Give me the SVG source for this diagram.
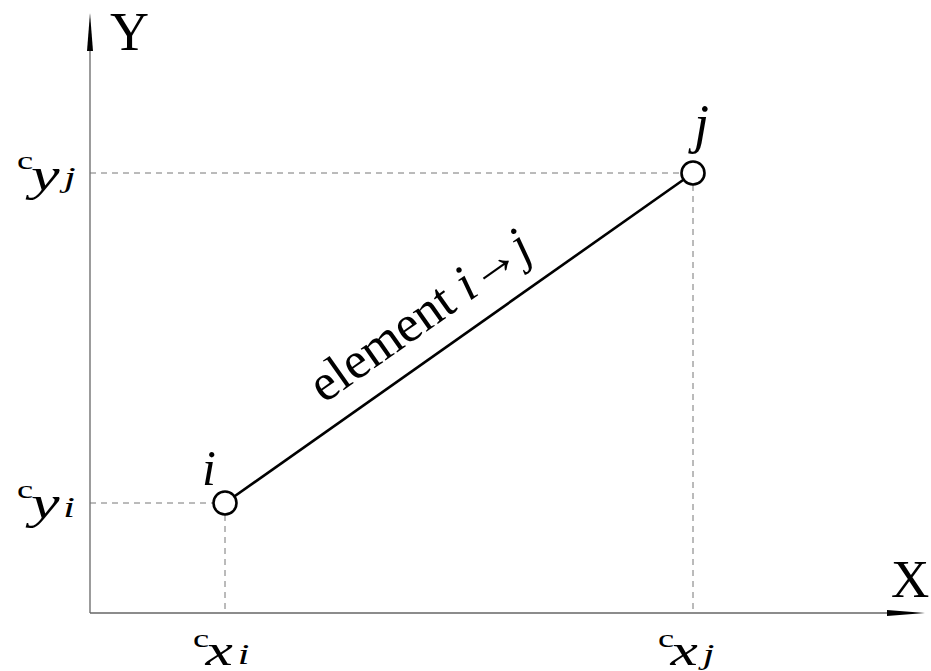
<svg xmlns="http://www.w3.org/2000/svg" width="931" height="671" viewBox="0 0 931 671">
<style>
.ax{stroke:#666;stroke-width:1.3;fill:none}
.dash{stroke:#777;stroke-width:1;stroke-dasharray:6,5;fill:none}
.el{stroke:#000;stroke-width:2.6;fill:none}
.nd{fill:#fff;stroke:#000;stroke-width:2.6}
.it{font-style:italic}
</style>
<g font-family="'Liberation Serif', 'Times New Roman', serif" fill="#000">
<g id="connectors">
<line class="ax" x1="90" y1="613" x2="90" y2="45"/>
<polygon points="87,51 93,51 90,13" fill="#000"/>
<line class="ax" x1="90" y1="613" x2="890" y2="613"/>
<polygon points="887,610 887,616 925,613" fill="#000"/>
<line class="dash" x1="90" y1="503" x2="213" y2="503"/>
<line class="dash" x1="225" y1="515" x2="225" y2="613"/>
<line class="dash" x1="90" y1="173" x2="681" y2="173"/>
<line class="dash" x1="693" y1="185" x2="693" y2="613"/>
<line class="el" x1="225" y1="503" x2="693" y2="173"/>
<text font-family="'Liberation Serif', serif" font-size="52" transform="translate(324,404) rotate(-35.2)">element <tspan class="it">i</tspan><tspan dy="-2">→</tspan><tspan class="it" dy="2">j</tspan></text>
</g>
<g id="node-i">
<circle class="nd" cx="225" cy="503" r="11.5"/>
<text class="it" font-family="'Liberation Serif', serif" font-size="50" x="202" y="485">i</text>
</g>
<g id="node-j">
<circle class="nd" cx="693" cy="173" r="11.5"/>
<text class="it" font-family="'Liberation Serif', serif" font-size="54" x="694" y="142">j</text>
</g>
<g id="axis-labels">
<text font-family="'Liberation Serif', serif" font-size="54" x="110" y="50">Y</text>
<text font-family="'Liberation Serif', serif" font-size="53" x="891" y="597">X</text>
</g>
<g id="coord-labels" font-family="'Liberation Serif', serif">
<text transform="translate(17,190) scale(1.4,1)"><tspan x="0" y="-21" font-size="26">c</tspan><tspan class="it" x="10" y="0" font-size="46">y</tspan><tspan class="it" x="33.5" y="-3" font-size="30">j</tspan></text>
<text transform="translate(17,518) scale(1.4,1)"><tspan x="0" y="-20" font-size="26">c</tspan><tspan class="it" x="10" y="0" font-size="46">y</tspan><tspan class="it" x="33" y="-1" font-size="30">i</tspan></text>
<text transform="translate(193,665) scale(1.4,1)"><tspan x="0" y="-18" font-size="26">c</tspan><tspan class="it" x="9" y="0" font-size="44">x</tspan><tspan class="it" x="32" y="-1" font-size="30">i</tspan></text>
<text transform="translate(658,665) scale(1.4,1)"><tspan x="0" y="-18" font-size="26">c</tspan><tspan class="it" x="9" y="0" font-size="44">x</tspan><tspan class="it" x="32" y="-1" font-size="30">j</tspan></text>
</g>
</g>
</svg>
